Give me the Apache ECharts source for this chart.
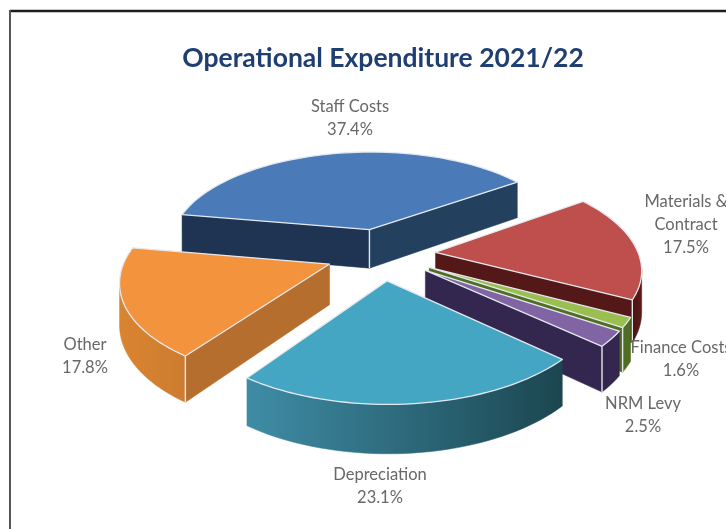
<!DOCTYPE html>
<html>
<head>
<meta charset="utf-8">
<title>Operational Expenditure 2021/22</title>
<script src="https://cdn.jsdelivr.net/npm/echarts@6/dist/echarts.min.js"></script>
<style>html,body{margin:0;padding:0;background:#fff}#chart{width:726px;height:529px}</style>
</head>
<body>
<div id="chart"></div>
<script>
// Expenditure shares, clockwise from the top-left of the pie
const categories = ['Staff Costs', 'Materials &\nContract', 'Finance Costs', 'NRM Levy', 'Depreciation', 'Other'];
const shares = [37.4, 17.5, 1.6, 2.5, 23.1, 17.8];

// Slice colours
const topColors = ['#4a7bb8', '#bf4f4c', '#9abf50', '#8064a4', '#44a6c2', '#f3933e'];
const radialStartColors = ['#1e3452', '#5a1a1a', '#4f6e22', '#33264f', '#26606f', '#b56e2e'];
const radialEndColors = ['#24405f', '#551818', '#4f6e22', '#33264f', '#26606f', '#b56e2e'];
const arcColors = [
  ['#24405f', '#1e3452'], ['#4a1414', '#5a1a1a'], ['#4f6e22', '#4f6e22'],
  ['#33264f', '#33264f'], ['#3f8ca6', '#1b4650'], ['#d98430', '#cd7c2f']
];
// Back-to-front painting order of the slices
const paintOrder = [0, 1, 2, 3, 5, 4];
// Centre of each label block
const labelCentres = [[350, 118], [686, 225], [681, 359], [643, 415], [380, 486], [85, 356]];

// Perspective camera for the pie
const view = { cx: 381, cy: 254, ax: 203, ay: 96, persp: 0.15, depth: 40, explode: 0.27 };
const START_ANGLE = 170;
const EDGE = '#e4e9ef';

function project(x, y, lifted) {
  const s = 1 / (1 + view.persp * y);
  return [view.cx + view.ax * x * s, view.cy - view.ay * y * s + (lifted ? view.depth * s : 0)];
}

function rad(d) { return d * Math.PI / 180; }

function sliceOutline(share, startDeg) {
  const sweep = share * 3.6;
  const mid = rad(startDeg - sweep / 2);
  const ox = view.explode * Math.cos(mid), oy = view.explode * Math.sin(mid);
  const arc = [];
  const steps = Math.max(3, Math.ceil(sweep / 2));
  for (let i = 0; i <= steps; i++) {
    const a = rad(startDeg - sweep * i / steps);
    arc.push([ox + Math.cos(a), oy + Math.sin(a)]);
  }
  return { apex: [ox, oy], arc };
}

function wall(ground, colour, z2) {
  const top = ground.map(g => project(g[0], g[1], false));
  const bottom = ground.map(g => project(g[0], g[1], true)).reverse();
  const fill = Array.isArray(colour)
    ? new echarts.graphic.LinearGradient(0, 0, 1, 0, [{ offset: 0, color: colour[0] }, { offset: 1, color: colour[1] }])
    : colour;
  return {
    type: 'polygon', z2, silent: true,
    shape: { points: top.concat(bottom) },
    style: { fill, stroke: fill, lineWidth: 0.5 }
  };
}

function corner(g, z2) {
  const a = project(g[0], g[1], false), b = project(g[0], g[1], true);
  return { type: 'line', z2, silent: true, shape: { x1: a[0], y1: a[1], x2: b[0], y2: b[1] }, style: { stroke: EDGE, lineWidth: 1.4 } };
}

function renderSlice(params, api) {
  const i = params.dataIndex;
  const share = api.value(0);
  let start = START_ANGLE;
  for (let k = 0; k < i; k++) start -= shares[k] * 3.6;
  const { apex, arc } = sliceOutline(share, start);
  const base = paintOrder.indexOf(i) * 10;
  const children = [];
  const facesViewer = (p, q) => project(q[0], q[1])[0] < project(p[0], p[1])[0];

  const first = arc[0], last = arc[arc.length - 1];
  const startVisible = facesViewer(apex, first), endVisible = facesViewer(last, apex);
  if (startVisible) children.push(wall([apex, first], radialStartColors[i], base + 1));
  if (endVisible) children.push(wall([last, apex], radialEndColors[i], base + 1));

  // The curved rim is visible only where it runs leftwards on screen
  let from = -1, to = -1;
  for (let k = 0; k < arc.length - 1; k++) {
    if (facesViewer(arc[k], arc[k + 1])) { if (from < 0) from = k; to = k + 1; }
  }
  if (from >= 0) children.push(wall(arc.slice(from, to + 1), arcColors[i], base + 1));

  if (startVisible && endVisible) children.push(corner(apex, base + 2));
  if (startVisible && from === 0) children.push(corner(first, base + 2));
  if (endVisible && to === arc.length - 1) children.push(corner(last, base + 2));

  children.push({
    type: 'polygon', z2: base + 3, silent: true,
    shape: { points: [apex].concat(arc).map(g => project(g[0], g[1], false)) },
    style: { fill: topColors[i], stroke: EDGE, lineWidth: 1.3, lineJoin: 'round' }
  });
  children.push({
    type: 'text', z2: 200, silent: true,
    style: {
      text: categories[i] + '\n' + share.toFixed(1) + '%',
      x: labelCentres[i][0], y: labelCentres[i][1],
      align: 'center', verticalAlign: 'middle',
      fill: '#686868', font: '16.5px Lato', lineHeight: 23
    }
  });
  return { type: 'group', children };
}

const chart = echarts.init(document.getElementById('chart'), null, { renderer: 'canvas' });
chart.setOption({
  animation: false,
  backgroundColor: '#ffffff',
  title: {
    text: 'Operational Expenditure 2021/22',
    left: 378, top: 40, textAlign: 'center',
    textStyle: { color: '#1f3f72', fontFamily: 'Lato', fontWeight: 'bold', fontSize: 26.5 }
  },
  graphic: [
    { type: 'line', silent: true, shape: { x1: 10, y1: 11, x2: 726, y2: 11 }, style: { stroke: '#1e1e1e', lineWidth: 2.5 } },
    { type: 'line', silent: true, shape: { x1: 10, y1: 10, x2: 10, y2: 529 }, style: { stroke: '#555555', lineWidth: 2 } }
  ],
  series: [{
    type: 'custom',
    coordinateSystem: 'none',
    clip: false,
    renderItem: renderSlice,
    data: shares.map(v => [v])
  }]
});
</script>
</body>
</html>
